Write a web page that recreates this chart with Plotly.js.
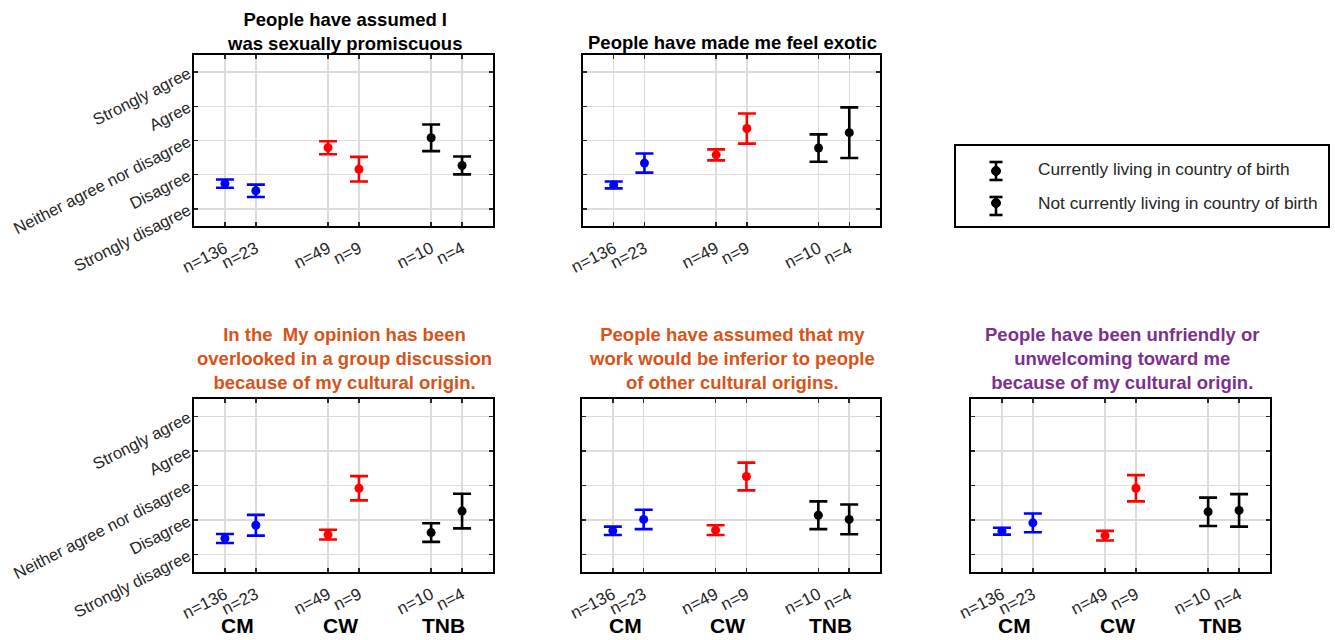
<!DOCTYPE html>
<html>
<head>
<meta charset="utf-8">
<script src="https://cdn.plot.ly/plotly-3.0.1.min.js"></script>
<style>html,body{margin:0;padding:0;background:#fff;}#chart{width:1335px;height:640px;}</style>
</head>
<body>
<div id="chart"></div>
<script>
// ---- data ----
const groups = ['CM', 'CW', 'TNB'];
const sampleLabels = ['n=136', 'n=23', 'n=49', 'n=9', 'n=10', 'n=4'];
const likertLabels = ['Strongly disagree', 'Disagree', 'Neither agree nor disagree', 'Agree', 'Strongly agree'];
const legendLabels = ['Currently living in country of birth', 'Not currently living in country of birth'];

const promiscuousMean = [1.74, 1.53, 2.79, 2.16, 3.08, 2.27];
const promiscuousErr  = [0.12, 0.18, 0.19, 0.36, 0.39, 0.26];
const exoticMean      = [1.70, 2.34, 2.58, 3.35, 2.78, 3.23];
const exoticErr       = [0.10, 0.28, 0.16, 0.44, 0.40, 0.74];
const overlookedMean  = [1.47, 1.85, 1.58, 2.92, 1.64, 2.26];
const overlookedErr   = [0.13, 0.30, 0.14, 0.35, 0.27, 0.50];
const inferiorMean    = [1.69, 2.02, 1.71, 3.26, 2.14, 2.02];
const inferiorErr     = [0.12, 0.28, 0.14, 0.40, 0.40, 0.43];
const unfriendlyMean  = [1.68, 1.92, 1.55, 2.92, 2.24, 2.28];
const unfriendlyErr   = [0.10, 0.27, 0.14, 0.38, 0.41, 0.47];

const titles = [
  'People have assumed I<br>was sexually promiscuous',
  'People have made me feel exotic',
  'In the  My opinion has been<br>overlooked in a group discussion<br>because of my cultural origin.',
  'People have assumed that my<br>work would be inferior to people<br>of other cultural origins.',
  'People have been unfriendly or<br>unwelcoming toward me<br>because of my cultural origin.'
];

// ---- styling / layout ----
const W = 1335, H = 640;
const px = x => x / W, py = y => 1 - y / H;
const groupColors = ['#0000FF', '#FF0000', '#000000'];
const tickColor = '#262626';
const pairOffset = 0.3;
const positions = [];
groups.forEach((g, gi) => { positions.push(gi + 1); positions.push(gi + 1 + pairOffset); });

const panels = [
  {mean: promiscuousMean, err: promiscuousErr, box: [194, 493, 55, 226], yLabels: true, groupLabels: false, titleColor: '#000000', titleY: 31},
  {mean: exoticMean, err: exoticErr, box: [583, 880, 55, 226], yLabels: false, groupLabels: false, titleColor: '#000000', titleY: 42},
  {mean: overlookedMean, err: overlookedErr, box: [194, 493, 399, 572], yLabels: true, groupLabels: true, titleColor: '#D95319', titleY: 358},
  {mean: inferiorMean, err: inferiorErr, box: [582, 880, 399, 572], yLabels: false, groupLabels: true, titleColor: '#D95319', titleY: 358},
  {mean: unfriendlyMean, err: unfriendlyErr, box: [971, 1270, 399, 572], yLabels: false, groupLabels: true, titleColor: '#7E2F8E', titleY: 358}
];

const traces = [];
const layout = {
  width: W, height: H,
  margin: {l: 0, r: 0, t: 0, b: 0},
  paper_bgcolor: '#ffffff', plot_bgcolor: '#ffffff',
  showlegend: false,
  font: {family: 'Liberation Sans, Arial, sans-serif', color: tickColor},
  annotations: [], shapes: []
};

panels.forEach((p, i) => {
  const s = i === 0 ? '' : String(i + 1);
  const xa = 'x' + s, ya = 'y' + s;
  groups.forEach((g, gi) => {
    traces.push({
      type: 'scatter', mode: 'markers',
      x: [positions[2 * gi], positions[2 * gi + 1]],
      y: [p.mean[2 * gi], p.mean[2 * gi + 1]],
      error_y: {type: 'data', symmetric: true, array: [p.err[2 * gi], p.err[2 * gi + 1]],
                color: groupColors[gi], thickness: 2.6, width: 9},
      marker: {color: groupColors[gi], size: 9},
      xaxis: xa, yaxis: ya, hoverinfo: 'x+y', cliponaxis: false
    });
  });
  layout['xaxis' + s] = {
    domain: [px(p.box[0]), px(p.box[1])], anchor: ya,
    range: [0.7, 3.6], tickmode: 'array', tickvals: positions, ticktext: sampleLabels,
    tickangle: -27, tickfont: {size: 17, color: tickColor}, ticklabelstandoff: 4,
    ticks: 'inside', ticklen: 4, tickwidth: 1.5, tickcolor: tickColor,
    showline: true, linecolor: '#000000', linewidth: 2.2, mirror: 'allticks',
    showgrid: true, gridcolor: '#dcdcdc', gridwidth: 1.5, zeroline: false, fixedrange: true
  };
  layout['yaxis' + s] = {
    domain: [py(p.box[3]), py(p.box[2])], anchor: xa,
    range: [0.5, 5.5], tickmode: 'array', tickvals: [1, 2, 3, 4, 5], ticktext: likertLabels,
    showticklabels: p.yLabels, tickangle: -27, tickfont: {size: 16.5, color: tickColor},
    ticks: 'inside', ticklen: 4, tickwidth: 1.5, tickcolor: tickColor,
    showline: true, linecolor: '#000000', linewidth: 2.2, mirror: 'allticks',
    showgrid: true, gridcolor: '#dcdcdc', gridwidth: 1.5, zeroline: false, fixedrange: true
  };
  layout.annotations.push({
    text: '<b>' + titles[i] + '</b>', xref: 'paper', yref: 'paper',
    x: px((p.box[0] + p.box[1]) / 2 + 1), y: py(p.titleY), xanchor: 'center', yanchor: 'middle',
    showarrow: false, font: {size: 18.5, color: p.titleColor}
  });
  if (p.groupLabels) {
    groups.forEach((g, gi) => {
      layout.annotations.push({
        text: '<b>' + g + '</b>', xref: xa, yref: 'paper',
        x: gi + 1 + 0.12, y: py(625), xanchor: 'center', yanchor: 'middle',
        showarrow: false, font: {size: 21, color: '#000000'}
      });
    });
  }
});

// ---- legend box (drawn) ----
layout.shapes.push({type: 'rect', xref: 'paper', yref: 'paper',
  x0: px(955), x1: px(1329), y0: py(227), y1: py(145), line: {color: '#000000', width: 2}});
const legendRows = [{top: 162, bot: 180, dot: 171, text: 169}, {top: 197, bot: 215, dot: 203, text: 203}];
legendRows.forEach((r, k) => {
  const cx = 996;
  layout.shapes.push({type: 'line', xref: 'paper', yref: 'paper', x0: px(cx), x1: px(cx), y0: py(r.top), y1: py(r.bot), line: {color: '#000', width: 2.6}});
  layout.shapes.push({type: 'line', xref: 'paper', yref: 'paper', x0: px(cx - 6.5), x1: px(cx + 6.5), y0: py(r.top), y1: py(r.top), line: {color: '#000', width: 2.6}});
  layout.shapes.push({type: 'line', xref: 'paper', yref: 'paper', x0: px(cx - 6.5), x1: px(cx + 6.5), y0: py(r.bot), y1: py(r.bot), line: {color: '#000', width: 2.6}});
  layout.shapes.push({type: 'circle', xref: 'paper', yref: 'paper', x0: px(cx - 4.5), x1: px(cx + 4.5), y0: py(r.dot + 4.5), y1: py(r.dot - 4.5), fillcolor: '#000', line: {color: '#000', width: 1}});
  layout.annotations.push({text: legendLabels[k], xref: 'paper', yref: 'paper', x: px(1036), y: py(r.text),
    xanchor: 'left', yanchor: 'middle', showarrow: false, font: {size: 17.3, color: tickColor}});
});

Plotly.newPlot('chart', traces, layout, {staticPlot: true, displayModeBar: false});
</script>
</body>
</html>
